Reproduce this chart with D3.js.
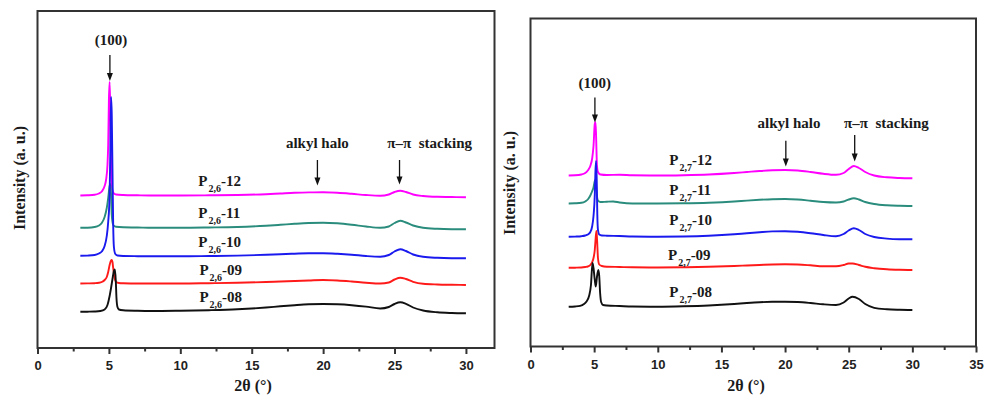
<!DOCTYPE html>
<html>
<head>
<meta charset="utf-8">
<script src="https://cdn.jsdelivr.net/npm/d3@7"></script>
<style>
  body { margin: 0; background: #fff; }
</style>
</head>
<body>
<svg id="fig" width="984" height="395"></svg>
<script>
// XRD scans: [2θ (°), intensity (a.u., curves offset vertically)]
const p26_12 = [[3,152.5],[3.5,152.7],[4,153.2],[4.3,154.5],[4.5,156.5],[4.7,162],[4.8,168],[4.9,183],[4.95,203],[5.0,248],[5.05,266],[5.1,238],[5.15,188],[5.2,163],[5.3,155.5],[5.5,153.5],[6,153],[7,152.7],[8,152.5],[10,152.5],[12,152.7],[14,153],[16,153.8],[17,154.5],[18,155.2],[19,155.6],[20,155.7],[21,155.2],[22,154.2],[23,153],[24,152.3],[24.6,153.5],[25,156],[25.4,157.3],[25.8,156],[26.3,153.5],[27,152],[28,151.2],[29,151],[30,150.7]];
const p26_11 = [[3,120.2],[3.5,120.3],[4,121],[4.3,122.5],[4.5,125],[4.7,131],[4.85,140],[4.95,150],[5.05,162],[5.1,164],[5.15,153],[5.2,133],[5.3,123],[5.5,121.2],[6,120.7],[7,120.5],[8,120.2],[10,120.2],[12,120.5],[14,121],[16,122.3],[17,123.2],[18,124.2],[19,125],[20,125.3],[21,124.7],[22,123.3],[23,121.5],[24,120.2],[24.6,121.5],[25,125],[25.4,127.3],[25.8,125.5],[26.3,122.5],[27,120.2],[28,119.2],[29,118.8],[30,118.7]];
const p26_10 = [[3,92.2],[3.5,92.4],[4,93],[4.3,94.5],[4.5,96.5],[4.7,102],[4.85,112],[4.95,126],[5.05,153],[5.1,198],[5.15,251],[5.2,233],[5.25,178],[5.3,123],[5.35,101],[5.45,94],[5.6,92.5],[6,92],[7,91.8],[8,91.7],[10,91.7],[12,92],[14,92.4],[16,93.2],[17,93.8],[18,94.3],[19,94.7],[20,94.7],[21,94.2],[22,93.3],[23,92],[24,91.3],[24.6,93],[25,96.5],[25.4,98.7],[25.8,97],[26.3,93.5],[27,91.2],[28,90.2],[29,89.8],[30,89.7]];
const p26_09 = [[3,64.5],[3.5,64.6],[4,64.8],[4.3,65.2],[4.5,66],[4.7,68],[4.85,71],[4.95,76],[5.05,83],[5.15,87.5],[5.2,88],[5.25,86],[5.3,80],[5.4,70],[5.5,66],[5.7,65],[6,64.7],[7,64.5],[8,64.5],[10,64.5],[12,64.8],[14,65.2],[16,66],[17,66.5],[18,67],[19,67.5],[20,68],[21,67.5],[22,66.5],[23,65.3],[24,64.5],[24.6,65.5],[25,68.5],[25.4,70.3],[25.8,69],[26.3,66.2],[27,64.2],[28,63.5],[29,63.2],[30,63]];
const p26_08 = [[3,36.2],[3.5,36.3],[4,36.5],[4.4,37],[4.7,38.5],[4.9,43],[5.05,52],[5.15,60],[5.25,69],[5.35,77],[5.42,78.5],[5.48,68],[5.53,50],[5.6,41],[5.7,38.5],[6,37.7],[7,37.2],[8,37],[10,37.3],[12,37.8],[14,38.7],[15,39.5],[16,40.5],[17,41.7],[18,42.8],[19,43.7],[20,44],[21,43.7],[22,42.8],[23,41.4],[24,39.5],[24.6,41],[25,44],[25.4,45.7],[25.8,44.2],[26.3,40.5],[27,37.5],[28,35.7],[29,35],[30,34.7]];

const p27_12 = [[3,171],[3.5,171.2],[4,172],[4.3,173.5],[4.5,176],[4.7,180.5],[4.85,188.5],[4.95,200.5],[5.05,222.5],[5.1,224.5],[5.15,211.5],[5.22,181.5],[5.3,174.5],[5.5,172],[6,171.5],[7,171.7],[8,171.2],[10,171],[12,171.3],[14,172],[16,173.5],[17,174.5],[18,175.5],[19,176.2],[20,176.5],[21,176],[22,174.5],[23,172.7],[24,171.7],[24.6,173.5],[25,177.5],[25.4,180.5],[25.8,178.5],[26.3,174.5],[27,171],[28,169.2],[29,168.5],[30,168.2]];
const p27_11 = [[3,143],[3.5,143.2],[4,143.7],[4.3,145],[4.5,147],[4.7,151],[4.85,155.5],[4.95,159],[5.05,165.5],[5.1,166.5],[5.15,160.5],[5.22,150.5],[5.3,146],[5.5,144.5],[6,144.8],[6.5,145],[7,144],[8,143],[10,143],[12,143.2],[14,143.8],[16,145],[17,145.9],[18,146.7],[19,147.3],[20,147.5],[21,147],[22,145.8],[23,144.5],[24,144],[24.6,145],[25,147],[25.4,148.2],[25.8,147],[26.3,144.5],[27,142.5],[28,141.2],[29,140.7],[30,140.5]];
const p27_10 = [[3,109.7],[3.5,109.9],[4,110.3],[4.3,111],[4.5,112],[4.7,114.5],[4.85,120.5],[4.95,130.5],[5.05,151.5],[5.1,174.5],[5.15,185.5],[5.2,168.5],[5.25,131.5],[5.3,116.5],[5.4,112],[5.6,111],[6,110.8],[7,110.5],[8,110],[10,109.8],[12,110],[14,110.7],[16,112.2],[17,113.3],[18,114.3],[19,115.1],[20,115.3],[21,114.7],[22,113.3],[23,111.5],[24,110.3],[24.6,112.5],[25,116],[25.4,118.2],[25.8,116.5],[26.3,112.5],[27,109.5],[28,107.9],[29,107.3],[30,107.2]];
const p27_09 = [[3,78.7],[3.5,78.8],[4,79],[4.3,79.5],[4.5,80],[4.7,81.5],[4.85,84.5],[4.95,88.5],[5.05,96.5],[5.12,108.5],[5.18,115.5],[5.23,106.5],[5.3,88.5],[5.4,82],[5.6,80.5],[6,79.8],[7,79.5],[8,79.2],[10,79],[12,79.2],[14,79.7],[16,80.5],[17,81],[18,81.5],[19,82],[20,82.2],[21,82],[22,81.2],[23,80.2],[24,80.2],[24.6,81.5],[25,83],[25.3,83],[25.8,81.5],[26.3,79.7],[27,78.3],[28,77.2],[29,76.7],[30,76.5]];
const p27_08 = [[3,39.7],[3.5,40],[3.9,40.7],[4.2,42.5],[4.4,45],[4.6,50.5],[4.75,61.5],[4.87,83.5],[4.95,78.5],[5.05,66.5],[5.13,60],[5.22,69.5],[5.33,76.5],[5.4,70.5],[5.47,53.5],[5.55,44.5],[5.7,41.5],[6,41],[7,40.5],[8,40],[10,39.8],[12,40.2],[14,41],[16,42.5],[17,43.5],[18,44.3],[19,44.7],[20,44.8],[21,44.5],[22,43.5],[23,42.2],[24,41.5],[24.6,44],[25,48],[25.3,49.8],[25.8,47.5],[26.3,42.5],[27,38.7],[28,37.2],[29,36.7],[30,36.5]];

// sample suffixes, top to bottom
const sampleIds = ["12", "11", "10", "09", "08"];
const sampleColors = ["#ff00ff", "#2a8c7c", "#1a1aee", "#ff1a1a", "#111111"];

const ticksLeft = [0, 5, 10, 15, 20, 25, 30];
const minorLeft = [2.5, 7.5, 12.5, 17.5, 22.5, 27.5];
const ticksRight = [0, 5, 10, 15, 20, 25, 30, 35];
const minorRight = [2.5, 7.5, 12.5, 17.5, 22.5, 27.5, 32.5];

const SERIF = "'Liberation Serif', 'Times New Roman', 'DejaVu Serif', serif";
const SANS = "'Liberation Sans', Arial, sans-serif";

const panels = [
  {
    prefix: "2,6",
    series: [p26_12, p26_11, p26_10, p26_09, p26_08],
    xDomain: [0, 32], yDomain: [0, 337],
    left: 37.5, right: 494.5, top: 11, bottom: 348,
    ticks: ticksLeft, minor: minorLeft,
    labelAt: [[11.26, 162], [11.26, 130.5], [11.26, 101.5], [11.34, 73], [11.34, 46]],
    peak: { x: 5.07, text: 5.15, y: 303, from: 293, to: 267 },
    halo: { x: 19.6, text: 19.6, y: 200, from: 188, to: 162.5 },
    stack: { x: 25.35, text: 24.49, y: 200, from: 188, to: 163.5 },
    titleX: 253, yTitle: [19, 178]
  },
  {
    prefix: "2,7",
    series: [p27_12, p27_11, p27_10, p27_09, p27_08],
    xDomain: [0, 35], yDomain: [0, 328],
    left: 530.5, right: 976, top: 18.5, bottom: 346.5,
    ticks: ticksRight, minor: minorRight,
    labelAt: [[10.9, 182], [10.9, 151.5], [10.9, 122], [10.8, 87], [10.9, 49.5]],
    peak: { x: 5.06, text: 5.05, y: 258.2, from: 249, to: 224 },
    halo: { x: 20.06, text: 20.31, y: 218.8, from: 205.8, to: 180 },
    stack: { x: 25.47, text: 24.63, y: 218.8, from: 211.5, to: 185 },
    titleX: 746, yTitle: [509.5, 183]
  }
];

const svg = d3.select("#fig");

function serifText(g, size) {
  return g.append("text")
    .style("font-family", SERIF).style("font-weight", "bold")
    .style("font-size", size + "px").style("fill", "#1a1a1a");
}

function arrow(g, x, y1, y2) {
  g.append("line").attr("x1", x).attr("x2", x).attr("y1", y1).attr("y2", y2 - 6)
    .attr("stroke", "#111").attr("stroke-width", 1.3);
  g.append("path")
    .attr("d", `M${x - 3},${y2 - 8} L${x + 3},${y2 - 8} L${x},${y2} Z`)
    .attr("fill", "#111");
}

panels.forEach(p => {
  const g = svg.append("g");
  const x = d3.scaleLinear().domain(p.xDomain).range([p.left, p.right]);
  const y = d3.scaleLinear().domain(p.yDomain).range([p.bottom, p.top]);

  // scans
  const line = d3.line().x(d => x(d[0])).y(d => y(d[1])).curve(d3.curveMonotoneX);
  p.series.forEach((s, i) => {
    g.append("path").datum(s).attr("d", line)
      .attr("fill", "none").attr("stroke", sampleColors[i])
      .attr("stroke-width", 1.9).attr("stroke-linejoin", "round");
  });

  // frame
  g.append("rect").attr("x", p.left).attr("y", p.top)
    .attr("width", p.right - p.left).attr("height", p.bottom - p.top)
    .attr("fill", "none").attr("stroke", "#333").attr("stroke-width", 2);

  // bottom axis, major and minor ticks
  const ax = g.append("g").attr("transform", `translate(0,${p.bottom})`)
    .call(d3.axisBottom(x).tickValues(p.ticks).tickSize(6).tickSizeOuter(0).tickPadding(7).tickFormat(d3.format("d")));
  ax.select(".domain").remove();
  ax.selectAll(".tick line").attr("stroke", "#333").attr("stroke-width", 2);
  ax.selectAll(".tick text")
    .style("font-family", SANS).style("font-weight", "bold")
    .style("font-size", "13px").style("fill", "#222");
  const mx = g.append("g").attr("transform", `translate(0,${p.bottom})`)
    .call(d3.axisBottom(x).tickValues(p.minor).tickSize(3.5).tickFormat(""));
  mx.select(".domain").remove();
  mx.selectAll(".tick line").attr("stroke", "#333").attr("stroke-width", 2);

  // axis titles
  serifText(g, 16).attr("x", p.titleX).attr("y", 391).attr("text-anchor", "middle")
    .text("2θ (°)");
  serifText(g, 16).attr("transform", `translate(${p.yTitle[0]},${p.yTitle[1]}) rotate(-90)`)
    .attr("text-anchor", "middle").attr("dominant-baseline", "central")
    .text("Intensity (a. u.)");

  // sample labels
  sampleIds.forEach((id, i) => {
    const t = serifText(g, 15).attr("x", x(p.labelAt[i][0])).attr("y", y(p.labelAt[i][1]));
    t.append("tspan").text("P");
    t.append("tspan").style("font-size", "10px").attr("dy", 6).attr("dx", 1).text(p.prefix);
    t.append("tspan").attr("dy", -6).text("-" + id);
  });

  // peak annotations
  serifText(g, 15).attr("x", x(p.peak.text)).attr("y", y(p.peak.y))
    .attr("text-anchor", "middle").text("(100)");
  arrow(g, x(p.peak.x), y(p.peak.from), y(p.peak.to));

  serifText(g, 15).attr("x", x(p.halo.text)).attr("y", y(p.halo.y))
    .attr("text-anchor", "middle").text("alkyl halo");
  arrow(g, x(p.halo.x), y(p.halo.from), y(p.halo.to));

  serifText(g, 15).attr("x", x(p.stack.text)).attr("y", y(p.stack.y))
    .text("π–π\u00a0 stacking");
  arrow(g, x(p.stack.x), y(p.stack.from), y(p.stack.to));
});
</script>
</body>
</html>
